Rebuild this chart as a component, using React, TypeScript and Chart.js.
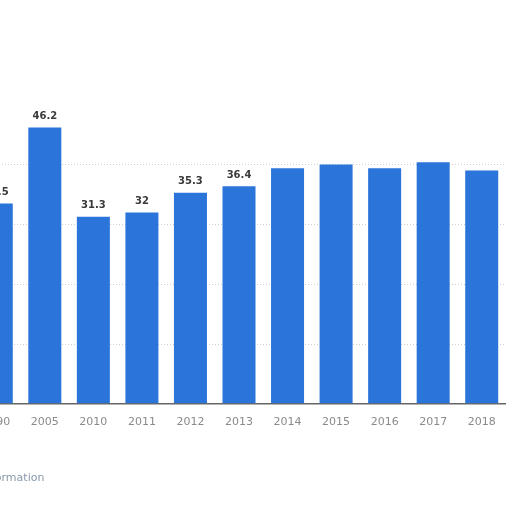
import { useEffect, useRef } from 'react';
import { Chart, registerables } from 'chart.js';

Chart.register(...registerables);

// years on the x axis (first one is cut off by the left edge)
const years = ['1990', '2005', '2010', '2011', '2012', '2013', '2014', '2015', '2016', '2017', '2018'];
// bar values
const values = [33.5, 46.2, 31.3, 32, 35.3, 36.4, 39.4, 40.0, 39.4, 40.4, 39.0];
// value labels shown above the bars (later ones are hidden in the reference)
const valueLabels = ['33.5', '46.2', '31.3', '32', '35.3', '36.4', '', '', '', '', ''];

const barLabels = {
  id: 'barLabels',
  afterDatasetsDraw(chart: Chart) {
    const { ctx } = chart;
    const meta = chart.getDatasetMeta(0);
    ctx.save();
    ctx.font = 'bold 10px "DejaVu Sans", sans-serif';
    ctx.fillStyle = '#3a3a3a';
    ctx.textAlign = 'center';
    ctx.textBaseline = 'bottom';
    meta.data.forEach((bar, i) => {
      const txt = valueLabels[i];
      if (!txt) return;
      ctx.fillText(txt, bar.x, bar.y - 6);
    });
    ctx.restore();
  },
};

export default function App() {
  const chartRef = useRef<HTMLCanvasElement>(null);

  useEffect(() => {
    if (!chartRef.current) return;
    const chart = new Chart(chartRef.current, {
      type: 'bar',
      data: {
        labels: years,
        datasets: [{
          data: values,
          backgroundColor: '#2b74d9',
          categoryPercentage: 1,
          barPercentage: 0.68,
        }],
      },
      options: {
        responsive: true,
        maintainAspectRatio: false,
        animation: false,
        layout: { padding: { top: 45, bottom: 79, left: 0, right: 0 } },
        scales: {
          x: {
            grid: { display: false },
            border: { color: '#666', width: 1.5 },
            ticks: { color: '#8a8a8a', padding: 4, font: { size: 11, family: '"DejaVu Sans", sans-serif' } },
          },
          y: {
            min: 0,
            max: 60,
            ticks: { display: false, stepSize: 10 },
            border: { display: false, dash: [1, 2] },
            grid: {
              drawTicks: false,
              lineWidth: 1,
              color: (c) => (c.tick && c.tick.value > 40 ? 'rgba(0,0,0,0)' : '#cfcfcf'),
            },
          },
        },
        plugins: {
          legend: { display: false },
          tooltip: { enabled: false },
        },
      },
      plugins: [barLabels],
    });
    return () => { chart.destroy(); };
  }, []);

  return (
    <div style={{ position: 'fixed', inset: 0, overflow: 'hidden', background: '#fff' }}>
      <div style={{ position: 'absolute', left: -28, top: 0, width: 534, height: 512 }}>
        <canvas ref={chartRef} />
      </div>
      <div style={{ position: 'absolute', left: -78, top: 471, fontSize: 11, color: '#8899aa', fontFamily: '"DejaVu Sans", sans-serif', whiteSpace: 'nowrap' }}>
        Additional Information
      </div>
    </div>
  );
}
